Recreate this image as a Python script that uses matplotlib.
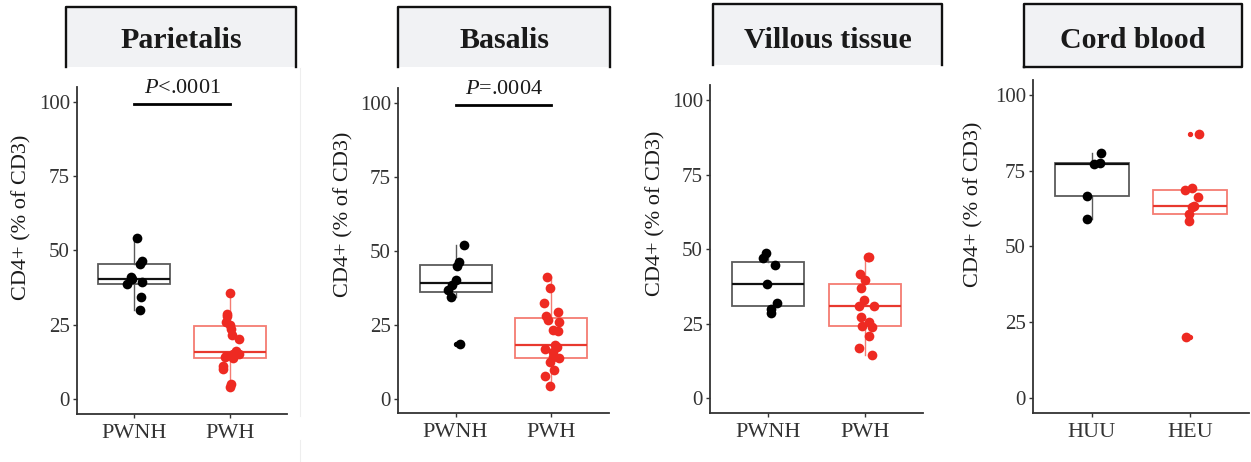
import numpy as np
import matplotlib
matplotlib.use("Agg")
import matplotlib.pyplot as plt
from matplotlib.patches import Rectangle
from matplotlib.lines import Line2D

plt.rcParams["font.family"] = ["Liberation Serif", "DejaVu Serif"]
plt.rcParams["mathtext.fontset"] = "custom"
plt.rcParams["mathtext.it"] = "Liberation Serif:italic"
plt.rcParams["mathtext.rm"] = "Liberation Serif"

# %% Daten

titles = ["Parietalis", "Basalis", "Villous tissue", "Cord blood"]
groups_placenta = ["PWNH", "PWH"]
groups_cord = ["HUU", "HEU"]

parietalis_pwnh = [54.3, 46.3, 45.3, 41.0, 40.5, 39.5, 38.6, 34.3, 30.1]
parietalis_pwh = [35.5, 28.5, 28.0, 26.0, 24.8, 23.5, 21.5, 20.2, 16.0,
                  15.3, 15.0, 14.6, 14.0, 13.8, 11.2, 10.2, 5.2, 4.1]

basalis_pwnh = [51.8, 46.1, 45.0, 40.0, 38.3, 36.6, 34.3, 18.6]
basalis_pwh = [41.1, 37.5, 32.4, 29.3, 28.0, 26.6, 26.0, 23.1, 22.8, 18.0,
               17.5, 16.9, 15.8, 13.9, 13.6, 12.4, 9.6, 7.6, 4.2]

villous_pwnh = [48.8, 47.0, 44.6, 38.2, 31.8, 30.0, 28.5]
villous_pwh = [47.5, 47.5, 41.6, 39.5, 37.0, 32.9, 31.0, 30.8, 27.4, 25.4,
               24.3, 23.9, 20.9, 16.8, 14.6]

cord_huu = [80.9, 77.6, 77.4, 66.6, 59.0]
cord_heu = [87.3, 69.3, 68.8, 66.4, 63.4, 62.9, 60.6, 58.4, 20.0]

panel_data = [
    (parietalis_pwnh, parietalis_pwh),
    (basalis_pwnh, basalis_pwh),
    (villous_pwnh, villous_pwh),
    (cord_huu, cord_heu),
]
panel_groups = [groups_placenta, groups_placenta, groups_placenta, groups_cord]
p_labels = [r"$\mathit{P}$<.0001", r"$\mathit{P}$=.0004", None, None]

# %% Layout (Pixel, von oben gemessen)

W, H = 1251, 462
axes_px = [(77, 86.8, 287, 413.9),
           (398, 88.2, 609, 413.3),
           (710, 85.0, 923, 413.2),
           (1033, 80.0, 1249, 412.8)]
strips_px = [(66, 7, 296, 67, False),
             (398, 7, 610, 67, False),
             (713, 4, 942, 65, False),
             (1024, 4, 1242, 67, True)]
ylabel_xy = [(-0.219, 0.602), (-0.213, 0.613), (-0.211, 0.61), (-0.231, 0.627)]


def frac(l, t, r, b):
    return [l / W, 1 - b / H, (r - l) / W, (b - t) / H]


black_pt = "#000000"
red_pt = "#ee2a22"
box_cols = [("#5a5a5a", "#111111"), ("#f47c72", "#e8382e")]

fig = plt.figure(figsize=(W / 100, H / 100), dpi=100)
rng = np.random.default_rng(7)

for i in range(4):
    ax = fig.add_axes(frac(*axes_px[i]))
    for k, vals in enumerate(panel_data[i]):
        edge, med = box_cols[k]
        pcol = black_pt if k == 0 else red_pt
        ax.boxplot([vals], positions=[k + 1], widths=0.75, whis=1.5,
                   patch_artist=True, showcaps=False,
                   boxprops=dict(facecolor="none", edgecolor=edge, linewidth=1.3),
                   medianprops=dict(color=med, linewidth=1.6),
                   whiskerprops=dict(color=edge, linewidth=1.0),
                   flierprops=dict(marker="o", markersize=2.8, markerfacecolor=pcol,
                                   markeredgecolor=pcol))
        jit = rng.uniform(-0.08, 0.1, len(vals))
        ax.plot(np.full(len(vals), k + 1) + jit, vals, "o", color=pcol,
                markersize=7, markeredgewidth=0, zorder=5, clip_on=False)

    ax.set_xlim(0.4, 2.6)
    ax.set_ylim(-5, 105)
    ax.set_xticks([1, 2])
    ax.set_xticklabels(panel_groups[i])
    ax.set_yticks([0, 25, 50, 75, 100])
    ax.spines[["top", "right"]].set_visible(False)
    for s in ["left", "bottom"]:
        ax.spines[s].set_color("#333333")
        ax.spines[s].set_linewidth(1.3)
    ax.tick_params(colors="#333333", labelsize=15, length=3, width=1.0, pad=2)
    ax.tick_params(axis="x", labelsize=16, pad=4)
    ax.set_ylabel("CD4+ (% of CD3)", fontsize=16, color="#1a1a1a")
    ax.yaxis.set_label_coords(*ylabel_xy[i])

    if p_labels[i] is not None:
        ax.plot([1, 2], [99.2, 99.2], color="black", linewidth=2, clip_on=False)
        ax.text(1.5, 101.2, p_labels[i], ha="center", va="bottom", fontsize=16,
                color="#1a1a1a", clip_on=False)

    # Streifen mit Titel
    l, t, r, b, bottom = strips_px[i]
    fig.patches.append(Rectangle((l / W, 1 - b / H), (r - l) / W, (b - t) / H,
                                 transform=fig.transFigure, facecolor="#f1f2f4",
                                 edgecolor="none", zorder=0))
    xs = [l / W, l / W, r / W, r / W]
    ys = [1 - b / H, 1 - t / H, 1 - t / H, 1 - b / H]
    if bottom:
        xs.append(l / W)
        ys.append(1 - b / H)
    fig.lines.append(Line2D(xs, ys, transform=fig.transFigure, color="#111111",
                            linewidth=1.7))
    fig.text((l + r) / 2 / W, 1 - 41 / H, titles[i], ha="center", va="center",
             fontsize=21.5, fontweight="bold", color="#1a1a1a")

# feine graue Trennlinie
fig.lines.append(Line2D([300 / W, 300 / W], [1 - 68 / H, 1 - 416 / H],
                        transform=fig.transFigure, color="#eeeeee", linewidth=0.8))
fig.lines.append(Line2D([300 / W, 300 / W], [1 - 440 / H, 0],
                        transform=fig.transFigure, color="#eeeeee", linewidth=0.8))

fig.savefig("out.png", dpi=100)
